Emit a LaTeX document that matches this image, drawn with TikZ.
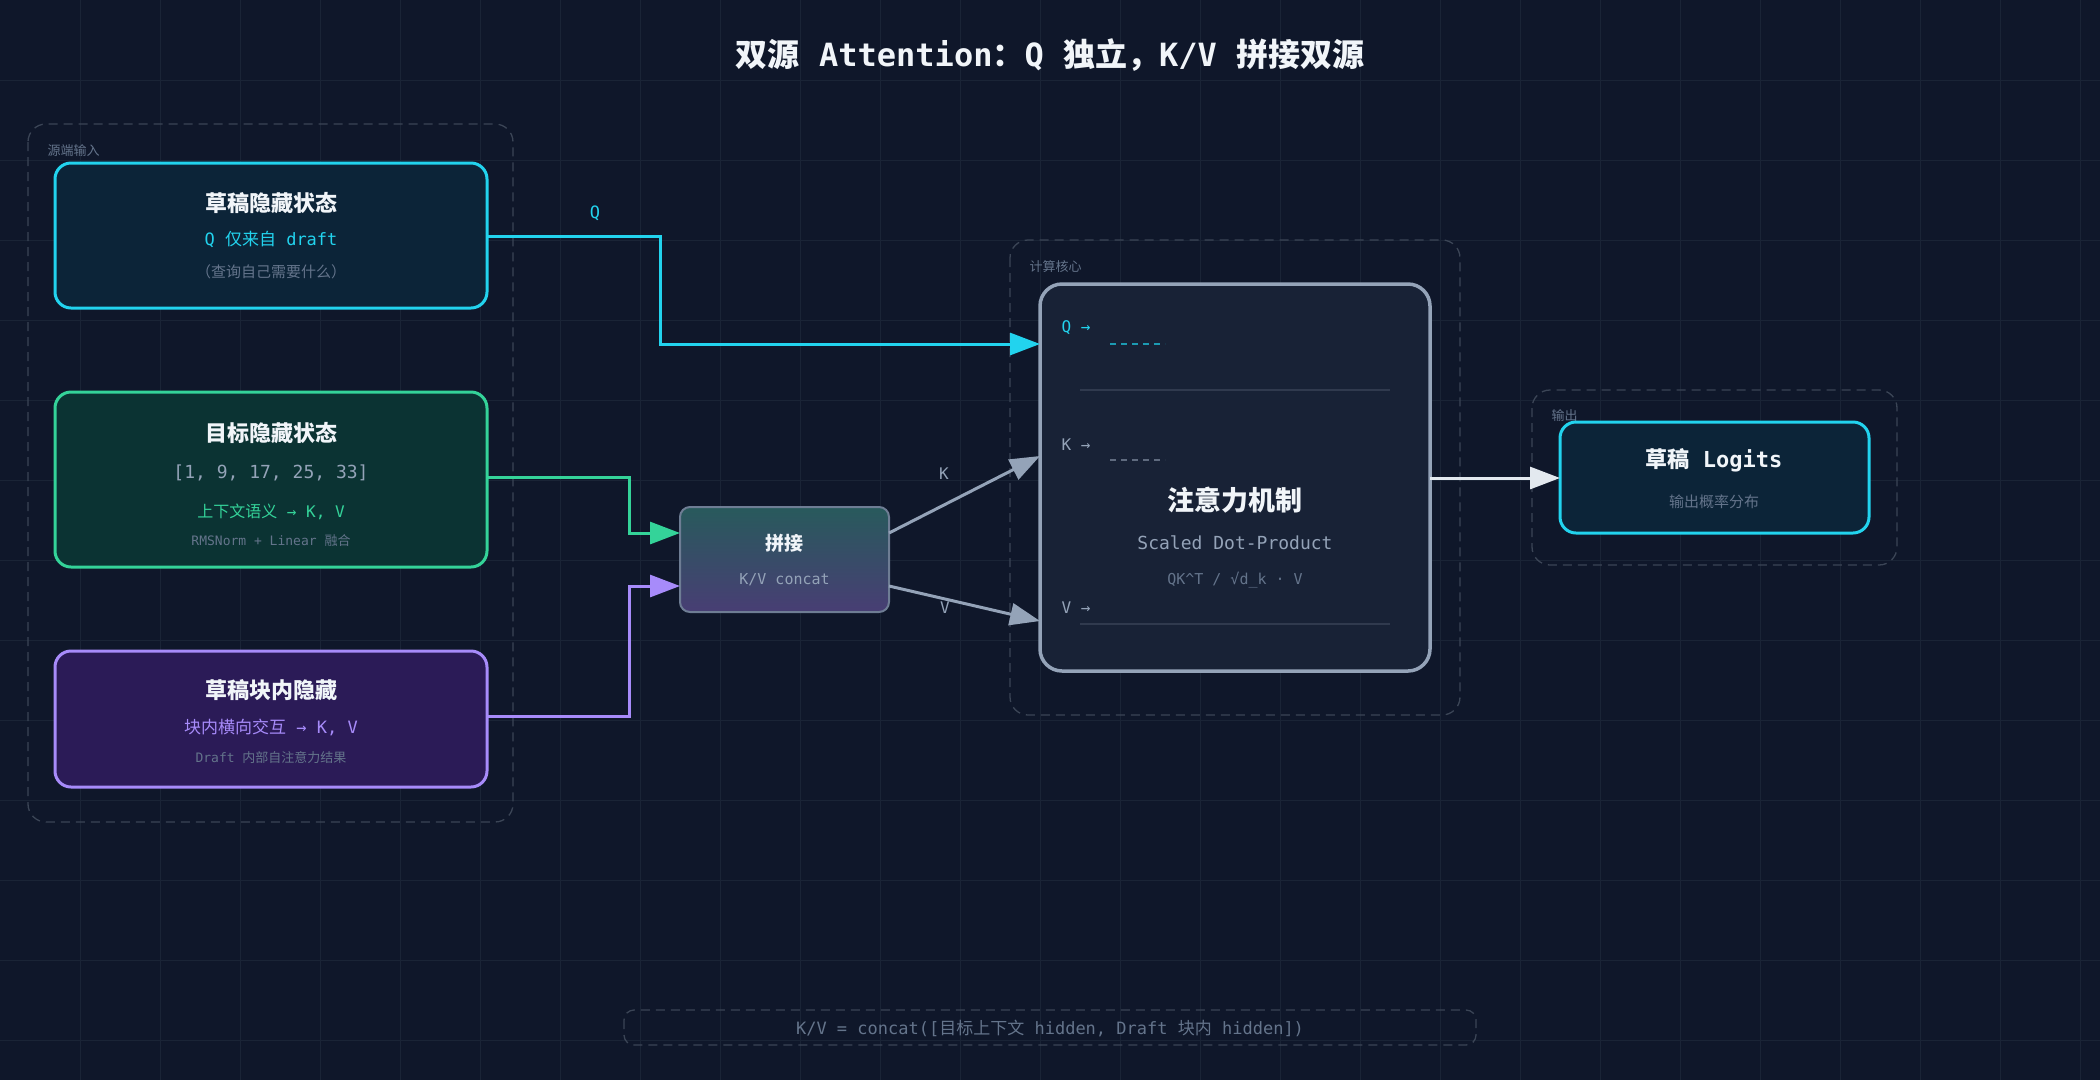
\documentclass[tikz,border=0pt]{standalone}
\usepackage{fontspec}
\setmainfont{DejaVu Sans Mono}
\newfontfamily\cjk{Noto Sans CJK SC}
\usetikzlibrary{arrows.meta}
\definecolor{bg}{HTML}{0F172A}
\definecolor{gridc}{HTML}{1A2436}
\definecolor{cy}{HTML}{22D3EE}
\definecolor{gr}{HTML}{34D399}
\definecolor{pu}{HTML}{A78BFA}
\definecolor{sl}{HTML}{94A3B8}
\definecolor{dim}{HTML}{64748B}
\definecolor{grp}{HTML}{3B4556}
\definecolor{txt}{HTML}{F1F5F9}
\definecolor{f1}{HTML}{0C2438}
\definecolor{f2}{HTML}{0B3333}
\definecolor{f3}{HTML}{2B1B57}
\definecolor{fa}{HTML}{182236}
\definecolor{ctop}{HTML}{285A5C}
\definecolor{cbot}{HTML}{483E74}
\tikzset{
 fs/.style={font=\fontsize{#1}{#1}\selectfont},
 grpbox/.style={draw=grp,dashed,dash pattern=on 9pt off 6pt,line width=1.3pt,rounded corners=18pt},
 card/.style={line width=3pt,rounded corners=16pt},
 ttl/.style={text=txt,fs=22},
 glab/.style={text=dim,fs=13,anchor=west},
 conn/.style={line width=3pt},
 tip/.style={-{Triangle[length=30pt,width=22pt]}}
}
\begin{document}
\begin{tikzpicture}[x=1pt,y=-1pt]
\fill[bg] (0,0) rectangle (2100,1080);
\useasboundingbox (0,0) rectangle (2100,1080);
\foreach \i in {1,...,26} \draw[gridc,line width=0.8pt] (\i*80,0) -- (\i*80,1080);
\foreach \i in {1,...,13} \draw[gridc,line width=0.8pt] (0,\i*80) -- (2100,\i*80);
\node[text=txt,font=\fontsize{32}{36}\selectfont\bfseries] (title) at (1050,55) {{\cjk\bfseries 双源} Attention{\cjk\bfseries ：}Q {\cjk\bfseries 独立，}K/V {\cjk\bfseries 拼接双源}};
% groups
\draw[grpbox] (28,124) rectangle (513,822);
\node[glab] (g1) at (44,151) {\cjk 源端输入};
\draw[grpbox] (1010,240) rectangle (1460,715);
\node[glab] (g2) at (1026,267) {\cjk 计算核心};
\draw[grpbox] (1532,390) rectangle (1897,565);
\node[glab] (g3) at (1548,416) {\cjk 输出};
\draw[grpbox,rounded corners=10pt] (624,1010) rectangle (1476,1045);
\node[text=dim,fs=17] (note) at (1050,1028) {K/V = concat([{\cjk 目标上下文} hidden, Draft {\cjk 块内} hidden])};
% cards
\draw[card,draw=cy,fill=f1] (55,163) rectangle (487,308);
\coordinate (b1) at (487,236);
\node[ttl] at (271,203) {\cjk\bfseries 草稿隐藏状态};
\node[text=cy,fs=17] at (271,239) {Q {\cjk 仅来自} draft};
\node[text=dim,fs=15] at (271,272) {\cjk （查询自己需要什么）};
\draw[card,draw=gr,fill=f2] (55,392) rectangle (487,567);
\coordinate (b2) at (487,477);
\node[ttl] at (271,433) {\cjk\bfseries 目标隐藏状态};
\node[text=sl,fs=18] at (271,473) {[1, 9, 17, 25, 33]};
\node[text=gr,fs=16] at (271,512) {{\cjk 上下文语义} → K, V};
\node[text=dim,fs=13] at (271,541) {RMSNorm + Linear {\cjk 融合}};
\draw[card,draw=pu,fill=f3] (55,651) rectangle (487,787);
\coordinate (b3) at (487,716);
\node[ttl] at (271,690) {\cjk\bfseries 草稿块内隐藏};
\node[text=pu,fs=17] at (271,727) {{\cjk 块内横向交互} → K, V};
\node[text=dim,fs=13] at (271,758) {Draft {\cjk 内部自注意力结果}};
% concat
\shade[top color=ctop, bottom color=cbot,rounded corners=10pt] (680,507) rectangle (889,612);
\draw[dim!80!sl,line width=2pt,rounded corners=10pt] (680,507) rectangle (889,612);
\node[ttl,fs=19] (cat) at (784.5,543) {\cjk\bfseries 拼接};
\node[text=sl,fs=15] at (784.5,580) {K/V concat};
\coordinate (catA) at (680,533); \coordinate (catB) at (680,586);
\coordinate (catK) at (889,533); \coordinate (catV) at (889,586);
% attention
\draw[card,draw=sl,fill=fa,line width=3.5pt,rounded corners=22pt] (1040,284) rectangle (1430,671);
\coordinate (aQ) at (1040,344); \coordinate (aK) at (1040,456); \coordinate (aV) at (1040,621); \coordinate (aO) at (1430,478);
\node[text=cy,fs=16,anchor=west] at (1058,328) {Q →};
\node[text=sl,fs=16,anchor=west] at (1058,445) {K →};
\node[text=sl,fs=16,anchor=west] at (1058,608) {V →};
\draw[cy!70!bg,line width=1.5pt,dash pattern=on 6pt off 5pt] (1110,344) -- (1165,344);
\draw[sl!60!bg,line width=1.5pt,dash pattern=on 6pt off 5pt] (1110,460) -- (1165,460);
\draw[sl!60!bg,line width=1.5pt,dash pattern=on 6pt off 5pt] (1110,624) -- (1165,624);
\draw[sl!25!bg,line width=1.5pt] (1080,390) -- (1390,390);
\draw[sl!25!bg,line width=1.5pt] (1080,624) -- (1390,624);
\node[ttl,fs=27] at (1235,500) {\cjk\bfseries 注意力机制};
\node[text=sl,fs=18] at (1235,543) {Scaled Dot-Product};
\node[text=dim,fs=15] at (1235,580) {QK\^{}T / √d\_k · V};
% output
\draw[card,draw=cy,fill=f1] (1560,422) rectangle (1869,533);
\coordinate (oIn) at (1560,478);
\node[ttl] at (1714,460) {{\cjk\bfseries 草稿} \bfseries Logits};
\node[text=dim,fs=15] at (1714,502) {\cjk 输出概率分布};
% connectors
\draw[conn,cy,tip] (b1) -- (660,236) -- (660,344) -- (aQ);
\node[text=cy,fs=17] at (595,213) {Q};
\draw[conn,gr,tip] (b2) -- (629,477) -- (629,533) -- (catA);
\draw[conn,pu,tip] (b3) -- (629,716) -- (629,586) -- (catB);
\draw[conn,sl,tip] (catK) -- (aK);
\draw[conn,sl,tip] (catV) -- (aV);
\node[text=sl,fs=16] at (944,474) {K};
\node[text=sl,fs=16] at (945,608) {V};
\draw[conn,txt!85!sl,tip] (aO) -- (oIn);
\end{tikzpicture}
\end{document}
